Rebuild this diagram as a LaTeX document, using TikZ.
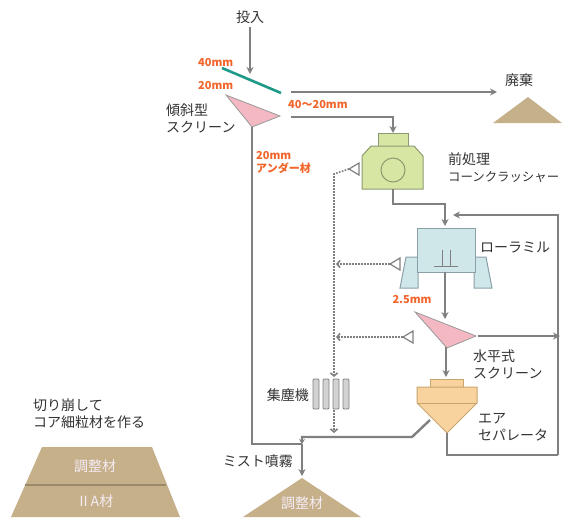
\documentclass[tikz,border=0pt]{standalone}
\usepackage{fontspec}
\setmainfont{Noto Sans CJK JP}
\usetikzlibrary{arrows.meta,positioning}

\definecolor{flowgray}{HTML}{808080}
\definecolor{inkgray}{HTML}{333333}
\definecolor{sizeorange}{HTML}{F2652A}
\definecolor{deckteal}{HTML}{1F9987}
\definecolor{screenpink}{HTML}{F4B8C3}
\definecolor{crushergreen}{HTML}{D7E7A3}
\definecolor{crusherline}{HTML}{8C9A70}
\definecolor{millblue}{HTML}{CFE7E9}
\definecolor{millline}{HTML}{8AA0A8}
\definecolor{sepyellow}{HTML}{F8D39D}
\definecolor{sepline}{HTML}{C9A56E}
\definecolor{piletan}{HTML}{C6B08A}
\definecolor{piledark}{HTML}{9A8A6C}

\begin{document}
\begin{tikzpicture}[x=1pt, y=-1pt,
  flow/.style={draw=flowgray, line width=2.4pt},
  arrow/.style={flow, -{Stealth[length=7pt, width=7pt]}},
  smallarrow/.style={flow, -{Stealth[length=5pt, width=6pt]}},
  suction/.style={draw=flowgray, line width=1.6pt, dash pattern=on 1.6pt off 1.4pt},
  suctionarrow/.style={suction, -{Straight Barb[length=3pt, width=7pt]}},
  hood/.style={draw=flowgray, line width=1.2pt, fill=white},
  screen/.style={draw=flowgray!80, line width=0.8pt, fill=screenpink},
  crusher/.style={draw=crusherline, line width=1pt, fill=crushergreen},
  mill/.style={draw=millline, line width=1pt, fill=millblue},
  separator/.style={draw=sepline, line width=1pt, fill=sepyellow},
  collectorbar/.style={draw=flowgray, line width=0.8pt, fill=gray!35, rounded corners=1pt},
  pile/.style={fill=piletan},
  label/.style={text=inkgray, font=\fontsize{14}{17}\selectfont, inner sep=0pt, align=left},
  size/.style={text=sizeorange, font=\fontsize{11}{13}\selectfont\bfseries, inner sep=0pt, align=left},
  piletext/.style={text=white!92!violet, font=\fontsize{14}{16}\selectfont, inner sep=0pt}]

\useasboundingbox (0,0) rectangle (565,517);

% feed onto the inclined screen
\node[label] (feed) at (250,17) {投入};
\coordinate (deckhit) at (250,74);
\draw[arrow, shorten <=3pt] (feed) -- (deckhit);

\draw[deckteal, line width=2.6pt] (222,68) -- (281,93);
\node[size, anchor=west] (overmesh) at (198,63) {40mm};
\node[size, anchor=west] (undermesh) at (198,86) {20mm};
\draw[screen] (226,95) -- (280,116) -- (252,127) -- cycle;
\node[label, anchor=west] (incline) at (166,118) {傾斜型\\スクリーン};

% oversize goes to waste
\coordinate (overout) at (291,92);
\coordinate (wastein) at (497,92);
\draw[arrow] (overout) -- (wastein);
\node[size, anchor=west] (midsize) at (288,105) {40～20mm};
\fill[pile] (493,123) -- (528,97) -- (562,123) -- cycle;
\node[label] (waste) at (519,80) {廃棄};

% 40-20mm to the cone crusher
\coordinate (midout) at (291,117);
\coordinate (crusherin) at (393,133);
\draw[arrow] (midout) -| (crusherin);

\draw[crusher] (378,133) rectangle (408,146);
\draw[crusher] (362,156) -- (371,146) -- (414,146) -- (423,156) -- (423,189) -- (362,189) -- cycle;
\draw[crusher] (393,170) circle[radius=12pt];
\node[label, anchor=west] (crushername) at (448,168) {前処理\\{\fontsize{12.4}{17}\selectfont コーンクラッシャー}};

% crusher to roller mill
\coordinate (crusherout) at (393,189);
\coordinate (millin) at (445,226);
\draw[arrow] (crusherout) -- ++(0,15) -| (millin);

% roller mill
\draw[mill] (406,257) -- (418,257) -- (418,288) -- (400,288) -- cycle;
\draw[mill] (474,257) -- (486,257) -- (492,288) -- (474,288) -- cycle;
\draw[mill] (417,228) rectangle (475,272);
\draw[flowgray, line width=1pt] (442,250) -- (442,266) (450,250) -- (450,266) (434,266) -- (458,266);
\node[label, anchor=west] (millname) at (480,247) {ローラミル};

% roller mill to horizontal screen
\coordinate (millout) at (445,272);
\coordinate (hscreenin) at (445,319);
\draw[arrow] (millout) -- (hscreenin);
\node[size] (finesize) at (412,300) {2.5mm};

\draw[screen] (415,312) -- (476,336) -- (447,348) -- cycle;
\coordinate (hscreenout) at (478,336);
\coordinate (productout) at (560,336);
\draw[arrow] (hscreenout) -- (productout);
\node[label, anchor=west] (hscreenname) at (473,364) {水平式\\スクリーン};

% horizontal screen to air separator
\coordinate (hscreenbot) at (446,347);
\coordinate (sepin) at (446,377);
\draw[arrow] (hscreenbot) -- (sepin);

\draw[separator] (430,379) rectangle (463,387);
\draw[separator] (417,387) -- (477,387) -- (477,403) -- (447,433) -- (417,403) -- cycle;
\draw[sepline, line width=1pt] (417,403) -- (477,403);
\node[label, anchor=west] (sepname) at (478,427) {エア\\セパレータ};

% coarse return from the separator back to the mill
\coordinate (sepbot) at (447,433);
\coordinate (loopcorner) at (558,455);
\coordinate (millreturn) at (453,215);
\draw[flow] (sepbot) |- (loopcorner);
\draw[arrow] (loopcorner) |- (millreturn);

% fines and screen underflow to the mist spray
\coordinate (sepside) at (430,420);
\coordinate (finesbend) at (412,437);
\coordinate (mistjoin) at (302,444);
\coordinate (pilein) at (302,476);
\draw[smallarrow] (sepside) -- (finesbend) -| (mistjoin);
\coordinate (screenbot) at (252,127);
\draw[flow] (screenbot) |- (mistjoin);
\draw[arrow] (mistjoin) -- (pilein);
\node[size, anchor=west] (undersize) at (256,162) {20mm\\アンダー材};
\node[label, anchor=east] (mist) at (293,461) {ミスト噴霧};

\fill[pile] (302,478) -- (361,517) -- (243,517) -- cycle;
\node[piletext] (product) at (302,503) {調整材};

% dust collection
\coordinate (crusherhood) at (349,169);
\coordinate (ductbend) at (334,174);
\coordinate (collectorin) at (334,377);
\draw[suctionarrow] (crusherhood) -- (ductbend) -- (collectorin);
\draw[hood] (crusherhood) -- ++(10,-6) -- ++(0,12) -- cycle;

\coordinate (millhood) at (390,264);
\draw[suctionarrow] (millhood) -- (336,264);
\draw[hood] (millhood) -- ++(10,-6) -- ++(0,12) -- cycle;

\coordinate (screenhood) at (403,337);
\draw[suctionarrow] (screenhood) -- (336,337);
\draw[hood] (screenhood) -- ++(10,-6) -- ++(0,12) -- cycle;

\foreach \bx in {315,325,335,345}
  \draw[collectorbar] (\bx-2,379) rectangle ++(6,30);
\node[label, anchor=east] (collector) at (309,395) {集塵機};
\coordinate (collectorout) at (334,410);
\coordinate (ductdrop) at (334,433);
\draw[suctionarrow] (collectorout) -- (ductdrop);

% stockpile cut down to make core fines
\node[label, anchor=west] (cutnote) at (33,414) {切り崩して\\コア細粒材を作る};
\fill[pile] (42,447) -- (152,447) -- (180,517) -- (11,517) -- cycle;
\draw[piledark, line width=1.6pt] (25,485) -- (166,485);
\node[piletext] (adjuster) at (95,466) {調整材};
\node[piletext] (grade) at (95,501) {ⅡA材};
\end{tikzpicture}
\end{document}
